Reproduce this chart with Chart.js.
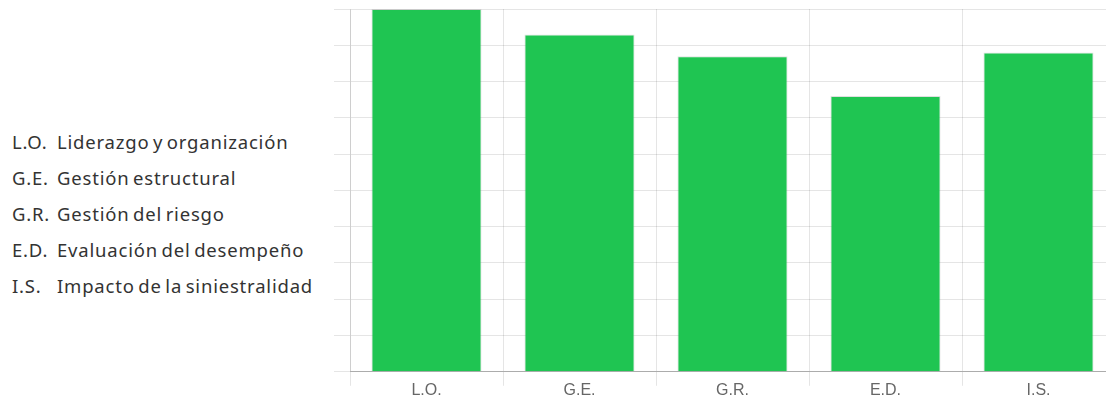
<!DOCTYPE html>
<html>
<head>
<meta charset="utf-8">
<script src="https://cdn.jsdelivr.net/npm/chart.js@4/dist/chart.umd.min.js"></script>
<style>
  html, body { margin: 0; padding: 0; background: #fff; overflow: hidden; width: 1106px; height: 401px; }
  #legend { position: absolute; left: 12px; top: 124px; font-family: "Noto Sans", sans-serif; font-size: 18.5px; letter-spacing: 0.8px; word-spacing: -2px; line-height: 36.1px; color: #333; border-collapse: collapse; }
  #legend td { padding: 0; white-space: nowrap; }
  #legend td.abbr { width: 45px; }
  #wrap { position: absolute; left: 330px; top: 0; width: 790px; height: 400px; }
</style>
</head>
<body>
<table id="legend"></table>
<div id="wrap"><canvas id="myChart"></canvas></div>
<script>
// categories and their long names
const labels = ['L.O.', 'G.E.', 'G.R.', 'E.D.', 'I.S.'];
const names = [
  'Liderazgo y organización',
  'Gestión estructural',
  'Gestión del riesgo',
  'Evaluación del desempeño',
  'Impacto de la siniestralidad'
];
// scores (0-100)
const scores = [100, 93, 87, 76, 88];

// legend table on the left
const legend = document.getElementById('legend');
labels.forEach((l, i) => {
  const row = legend.insertRow();
  const a = row.insertCell(); a.className = 'abbr'; a.textContent = l;
  const b = row.insertCell(); b.textContent = names[i];
});

const ctx = document.getElementById('myChart').getContext('2d');
new Chart(ctx, {
  type: 'bar',
  data: {
    labels: labels,
    datasets: [{
      label: 'Puntuación',
      data: scores,
      backgroundColor: '#1fc552',
      borderColor: 'rgba(0,0,0,0.12)',
      borderWidth: 1
    }]
  },
  options: {
    responsive: true,
    maintainAspectRatio: false,
    animation: false,
    layout: { padding: { top: 9, left: 4, right: 5, bottom: 5 } },
    plugins: { legend: { display: false }, tooltip: { enabled: false } },
    scales: {
      x: {
        grid: { color: 'rgba(0,0,0,0.1)', tickLength: 14 },
        border: { color: 'rgba(0,0,0,0.25)' },
        ticks: { color: '#666', padding: -5, font: { family: 'Liberation Sans, Arial', size: 16 } }
      },
      y: {
        min: 0,
        max: 100,
        grid: { color: 'rgba(0,0,0,0.1)', tickLength: 16 },
        border: { color: 'rgba(0,0,0,0.1)' },
        ticks: { display: false, stepSize: 10 }
      }
    }
  }
});
</script>
</body>
</html>
